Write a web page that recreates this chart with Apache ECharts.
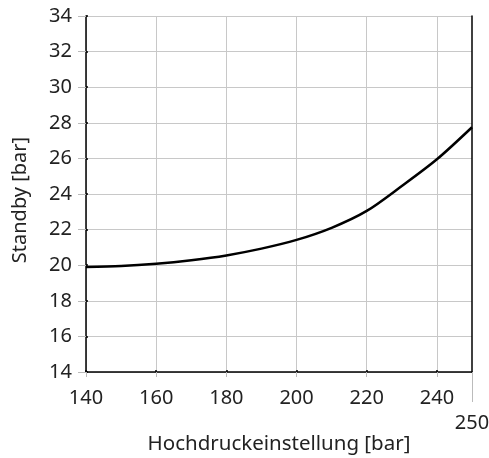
<!DOCTYPE html>
<html>
<head>
<meta charset="utf-8">
<script src="https://cdn.jsdelivr.net/npm/echarts@6/dist/echarts.min.js"></script>
<style>html,body{margin:0;padding:0;background:#fff}#c{width:489px;height:458px}</style>
</head>
<body>
<div id="c"></div>
<script>
const xValues = [140, 150, 160, 170, 180, 190, 200, 210, 220, 230, 240, 250];
const standby = [19.9, 19.95, 20.08, 20.28, 20.55, 20.93, 21.42, 22.1, 23.05, 24.45, 25.95, 27.75];
const xTickLabels = [140, 160, 180, 200, 220, 240];
const xEndLabel = [250];
const yTicks = [14, 16, 18, 20, 22, 24, 26, 28, 30, 32, 34];

const font = 'Noto Sans';
const txt = '#222';
const chart = echarts.init(document.getElementById('c'), null, {renderer: 'canvas'});
chart.setOption({
  animation: false,
  grid: {left: 86, right: 17, top: 16, bottom: 86, outerBoundsMode: 'none', containLabel: false},
  xAxis: [{
    type: 'value', min: 140, max: 250, interval: 20,
    name: 'Hochdruckeinstellung [bar]', nameLocation: 'middle', nameGap: 62,
    nameTextStyle: {fontFamily: font, fontSize: 20.5, color: txt},
    axisLine: {lineStyle: {color: '#000', width: 1.5}},
    axisTick: {show: true, length: 5, lineStyle: {color: '#bbb'}, customValues: xTickLabels},
    axisLabel: {customValues: xTickLabels, margin: 16, fontFamily: font, fontSize: 20, color: txt},
    splitLine: {show: true, lineStyle: {color: '#c8c8c8', width: 1}}
  }, {
    type: 'value', min: 140, max: 250, position: 'bottom', gridIndex: 0,
    axisLine: {show: false},
    axisTick: {show: true, length: 30, lineStyle: {color: '#bbb'}, customValues: xEndLabel},
    axisLabel: {customValues: xEndLabel, margin: 41, fontFamily: font, fontSize: 20, color: txt},
    splitLine: {show: false}
  }, {
    type: 'value', min: 140, max: 250, position: 'bottom', gridIndex: 0,
    axisLine: {show: false},
    axisTick: {show: true, inside: true, length: 2, lineStyle: {color: '#000', width: 1.5}, customValues: xTickLabels},
    axisLabel: {show: false}, splitLine: {show: false}
  }],
  yAxis: [{
    type: 'value', min: 14, max: 34, interval: 2,
    name: 'Standby [bar]', nameLocation: 'middle', nameGap: 56,
    nameTextStyle: {fontFamily: font, fontSize: 20, color: txt, padding: [0, 12, 0, 0]},
    axisLine: {show: true, lineStyle: {color: '#000', width: 1.5}},
    axisTick: {show: true, length: 8, lineStyle: {color: '#bbb'}},
    axisLabel: {margin: 14, fontFamily: font, fontSize: 20, color: txt},
    splitLine: {show: true, lineStyle: {color: '#c8c8c8', width: 1}}
  }, {
    type: 'value', min: 14, max: 34, interval: 2, position: 'right',
    axisLine: {show: true, lineStyle: {color: '#000', width: 1.5}},
    axisTick: {show: false}, axisLabel: {show: false}, splitLine: {show: false}
  }, {
    type: 'value', min: 14, max: 34, interval: 2, position: 'left',
    axisLine: {show: false},
    axisTick: {show: true, inside: true, length: 2, lineStyle: {color: '#000', width: 1.5}},
    axisLabel: {show: false}, splitLine: {show: false}
  }],
  series: [{
    type: 'line', data: xValues.map((x, i) => [x, standby[i]]),
    smooth: 0.3, symbol: 'none', clip: false,
    lineStyle: {color: '#000', width: 2.5}
  }]
});
</script>
</body>
</html>
